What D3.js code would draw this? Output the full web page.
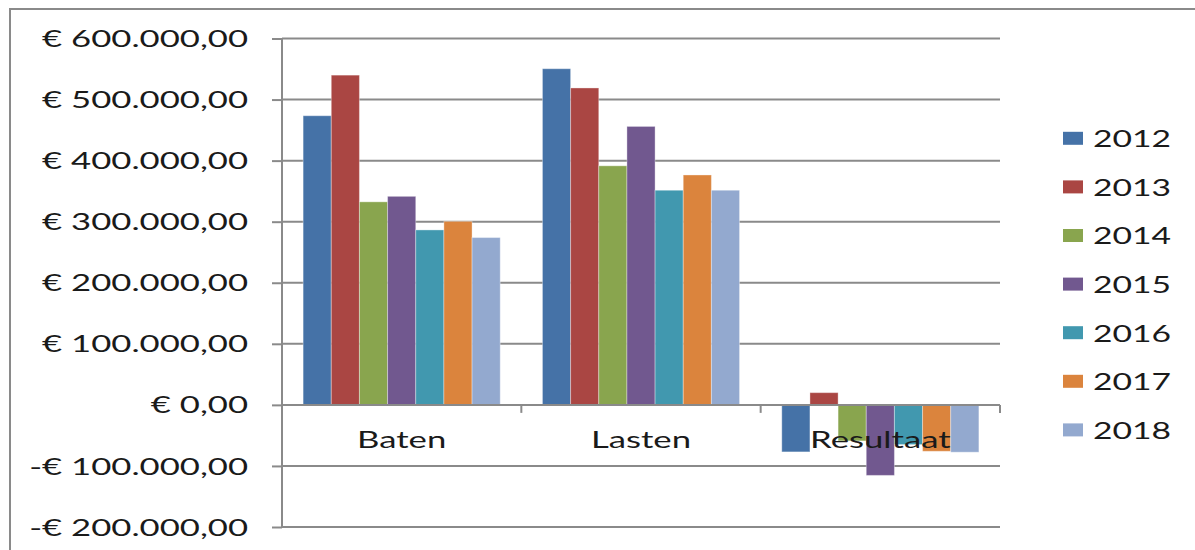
<!DOCTYPE html>
<html><head><meta charset="utf-8">
<script src="https://cdn.jsdelivr.net/npm/d3@7"></script>
<style>
body{margin:0;background:#fff}
svg{display:block}
text{font-family:Lato,'Open Sans',sans-serif;fill:#1a1a1a}
</style></head>
<body><svg id="c" width="1195" height="550"></svg>
<script>
const categories = ["Baten", "Lasten", "Resultaat"];
const years = ["2012", "2013", "2014", "2015", "2016", "2017", "2018"];
const y2012 = [473500, 550500, -77000];
const y2013 = [540000, 519000, 20000];
const y2014 = [332500, 391500, -59000];
const y2015 = [341500, 456000, -115500];
const y2016 = [286500, 351500, -65000];
const y2017 = [300500, 376500, -76000];
const y2018 = [274000, 351500, -77500];
const seriesValues = [y2012, y2013, y2014, y2015, y2016, y2017, y2018];
const yTicks = [-200000, -100000, 0, 100000, 200000, 300000, 400000, 500000, 600000];
const colors = ["#4572A7", "#AA4643", "#89A54E", "#71588F", "#4198AF", "#DB843D", "#93A9CF"];

const svg = d3.select("#c");
const L = 282, R = 1000;
const x0 = d3.scaleBand().domain(categories).range([L, R]).padding(0);
const x1 = d3.scaleBand().domain(years).range([0, x0.bandwidth()]).paddingInner(0).paddingOuter(0.75);
const y = d3.scaleLinear().domain([-200000, 600000]).range([527, 38.5]);
const loc = d3.formatLocale({decimal: ",", thousands: ".", grouping: [3], currency: ["€ ", ""], minus: "-"});
const fmt = loc.format("$,.2f");
const gray = "#8a8a8a";
const FS = 23.5;

// outer border
svg.append("rect").attr("x", 10).attr("y", 9).attr("width", 1250).attr("height", 600)
  .attr("fill", "none").attr("stroke", gray).attr("stroke-width", 2);

// gridlines
svg.append("g").selectAll("line").data(yTicks).join("line")
  .attr("x1", L).attr("x2", R).attr("y1", d => y(d)).attr("y2", d => y(d))
  .attr("stroke", gray).attr("stroke-width", 2);

// bars
const data = [];
categories.forEach((c, ci) => years.forEach((yr, si) => data.push({c, yr, si, v: seriesValues[si][ci]})));
svg.append("g").selectAll("rect").data(data).join("rect")
  .attr("x", d => x0(d.c) + x1(d.yr))
  .attr("width", x1.bandwidth())
  .attr("y", d => y(Math.max(0, d.v)))
  .attr("height", d => Math.abs(y(d.v) - y(0)))
  .attr("fill", d => colors[d.si])
  .attr("stroke", "rgba(255,255,255,0.35)").attr("stroke-width", 1);

// y axis
const ya = svg.append("g").attr("transform", `translate(${L},0)`)
  .call(d3.axisLeft(y).tickValues(yTicks).tickSize(10).tickFormat(""));
ya.selectAll("path,line").attr("stroke", gray).attr("stroke-width", 2);
ya.select("path").attr("d", `M0,${y(600000)}V${y(-200000)}`);

// x axis at zero
const xa = svg.append("g").attr("transform", `translate(0,${y(0)})`);
xa.append("line").attr("x1", L).attr("x2", R).attr("stroke", gray).attr("stroke-width", 2);
const bounds = categories.map(c => x0(c)).concat([R]);
xa.selectAll("line.t").data(bounds).join("line").attr("class", "t")
  .attr("x1", d => d).attr("x2", d => d).attr("y1", 0).attr("y2", 8)
  .attr("stroke", gray).attr("stroke-width", 2);

// measure stretch factor
const probe = svg.append("text").attr("font-size", FS).text(fmt(600000));
const s = 206 / probe.node().getComputedTextLength();
probe.remove();

// y labels
svg.append("g").selectAll("text").data(yTicks).join("text")
  .attr("font-size", FS).attr("text-anchor", "end")
  .attr("transform", d => `translate(248,${y(d) + 8.6}) scale(${s},1)`)
  .text(d => fmt(d));

// category labels
svg.append("g").selectAll("text").data(categories).join("text")
  .attr("font-size", FS).attr("text-anchor", "middle")
  .attr("transform", d => `translate(${x0(d) + x0.bandwidth() / 2},447.5) scale(${s},1)`)
  .text(d => d);

// legend
const lg = svg.append("g").selectAll("g").data(years).join("g")
  .attr("transform", (d, i) => `translate(1063,${138.3 + i * 48.6})`);
lg.append("rect").attr("x", 0).attr("y", -6.5).attr("width", 20).attr("height", 13)
  .attr("fill", (d, i) => colors[i]);
lg.append("text").attr("font-size", FS).attr("transform", `translate(30,8.8) scale(${s * 0.97},1)`).text(d => d);
</script>
</body></html>
